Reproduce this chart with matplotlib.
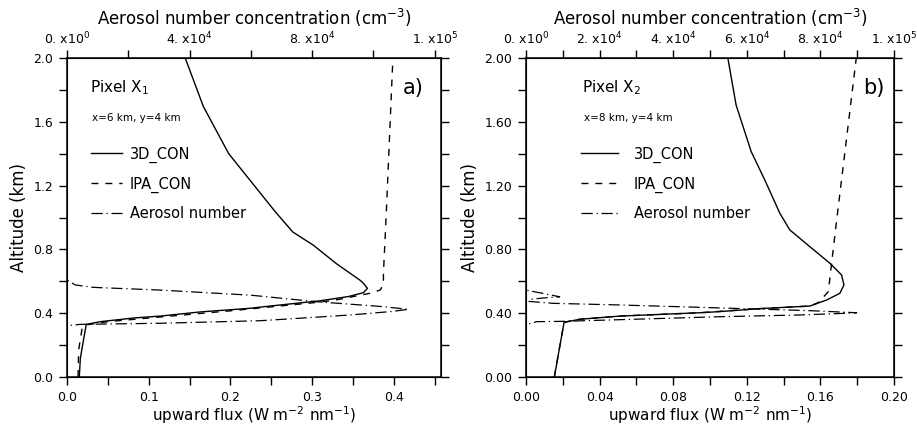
import numpy as np
import matplotlib
matplotlib.use("Agg")
import matplotlib.pyplot as plt
from matplotlib.lines import Line2D

# ==============================
# Data
# ==============================

# Panel a) pixel X1 : upward flux (W m-2 nm-1) vs altitude (km)
a_3d_flux = [0.015, 0.0163, 0.0204, 0.0236, 0.0407, 0.0815, 0.114, 0.163, 0.2243,
             0.245, 0.31, 0.345, 0.363, 0.3678, 0.363, 0.359, 0.330, 0.3017,
             0.2765, 0.255, 0.198, 0.167, 0.1447]
a_3d_alt = [0.0, 0.117, 0.24, 0.33, 0.347, 0.37, 0.382, 0.408, 0.431,
            0.443, 0.478, 0.505, 0.529, 0.556, 0.587, 0.606, 0.71, 0.826,
            0.909, 1.036, 1.40, 1.695, 2.0]

a_ipa_flux = [0.0135, 0.0142, 0.0183, 0.022, 0.05, 0.1, 0.2, 0.30, 0.326,
              0.371, 0.3833, 0.3874, 0.3874, 0.3907, 0.399]
a_ipa_alt = [0.0, 0.169, 0.30, 0.326, 0.347, 0.37, 0.415, 0.465, 0.48,
             0.525, 0.545, 0.577, 0.65, 1.003, 2.0]

# aerosol number concentration (cm-3) vs altitude (km)
a_aer_num = [0, 0, 4340, 30440, 63060, 70670, 92430, 105480, 111450,
             103300, 81570, 60000, 30440, 8680, 2700, 0, 0]
a_aer_alt = [0.0, 0.322, 0.33, 0.337, 0.353, 0.362, 0.389, 0.41, 0.424,
             0.441, 0.472, 0.513, 0.545, 0.562, 0.577, 0.608, 2.0]

# Panel b) pixel X2
b_3d_flux = [0.0154, 0.0207, 0.0292, 0.051, 0.0945, 0.1052, 0.126, 0.1308,
             0.1543, 0.1634, 0.1706, 0.1728, 0.1715, 0.1652, 0.1543, 0.1434,
             0.138, 0.1298, 0.1224, 0.1142, 0.1097]
b_3d_alt = [0.0, 0.343, 0.362, 0.382, 0.403, 0.41, 0.428, 0.431,
            0.445, 0.483, 0.525, 0.577, 0.64, 0.713, 0.817, 0.922,
            1.026, 1.235, 1.413, 1.705, 2.0]

b_ipa_flux = [0.0154, 0.0207, 0.0292, 0.051, 0.0945, 0.126, 0.1543, 0.1588,
              0.1643, 0.1685, 0.1795]
b_ipa_alt = [0.0, 0.343, 0.362, 0.382, 0.403, 0.428, 0.445, 0.466,
             0.535, 0.95, 2.0]

b_aer_num = [0, 0, 1000, 2830, 10060, 52680, 74440, 86300, 89860, 77160,
             47240, 25000, 7340, 800, 1000, 4500, 9165, 4000, 0, 0]
b_aer_alt = [0.0, 0.322, 0.334, 0.347, 0.349, 0.378, 0.389, 0.399, 0.403, 0.416,
             0.437, 0.452, 0.462, 0.474, 0.487, 0.495, 0.503, 0.527, 0.545, 2.0]

legend_labels = ["3D_CON", "IPA_CON", "Aerosol number"]

# ==============================
# Figure
# ==============================
plt.rcParams["font.family"] = "DejaVu Sans"
plt.rcParams["mathtext.fontset"] = "dejavusans"

fig = plt.figure(figsize=(9.17, 4.25), dpi=100)
ax_a = fig.add_axes([0.0731, 0.1129, 0.4079, 0.7506])
ax_b = fig.add_axes([0.5736, 0.1129, 0.4013, 0.7506])

dash_style = (0, (5, 5))
dashdot_style = (0, (9, 3, 1, 3))


def style_axis(ax):
    ax.tick_params(which="both", direction="out", length=6, width=1,
                   labelsize=9, right=True, top=False, pad=4)
    for s in ax.spines.values():
        s.set_linewidth(1.1)


def add_panel(ax, flux3d, alt3d, fluxipa, altipa, aer, aeralt,
              xlim, xmajor, xminor, xfmt, ylabfmt,
              toplim, topmajor, topminor, toplabels,
              pixel, pos_text, legend_x, hl, htp, tag, tag_x):
    ax.plot(flux3d, alt3d, color="black", lw=1.0)
    ax.plot(fluxipa, altipa, color="black", lw=1.0, linestyle=dash_style)
    ax.set_xlim(*xlim)
    ax.set_ylim(0, 2.0)
    ax.set_xticks(xmajor)
    ax.set_xticklabels([xfmt.format(v) for v in xmajor])
    ax.set_xticks(xminor, minor=True)
    yt = np.arange(0, 2.01, 0.4)
    ax.set_yticks(yt)
    ax.set_yticklabels([ylabfmt.format(v) for v in yt])
    ax.set_yticks(np.arange(0, 2.01, 0.2), minor=True)
    style_axis(ax)
    ax.set_xlabel(r"upward flux (W m$^{-2}$ nm$^{-1}$)", fontsize=11, labelpad=0)
    ax.set_ylabel("Altitude (km)", fontsize=12, labelpad=4)

    top = ax.twiny()
    top.plot(aer, aeralt, color="black", lw=0.9, linestyle=dashdot_style)
    top.set_xlim(*toplim)
    top.set_xticks(topmajor)
    top.set_xticklabels(toplabels)
    top.set_xticks(topminor, minor=True)
    top.tick_params(which="both", direction="out", length=6, width=1,
                    labelsize=9, pad=2)
    top.set_xlabel(r"Aerosol number concentration (cm$^{-3}$)", fontsize=12, labelpad=4)
    top.set_ylim(0, 2.0)

    ax.text(pixel[0], 0.906, pixel[1], transform=ax.transAxes, fontsize=11,
            va="center", ha="left")
    ax.text(pixel[0] + 0.005, 0.812, pos_text, transform=ax.transAxes, fontsize=7.5,
            va="center", ha="left")
    ax.text(tag_x, 0.906, tag, transform=ax.transAxes, fontsize=15,
            va="center", ha="center")

    handles = [Line2D([], [], color="black", lw=1.0),
               Line2D([], [], color="black", lw=1.0, linestyle=dash_style),
               Line2D([], [], color="black", lw=0.9, linestyle=dashdot_style)]
    ax.legend(handles, legend_labels, loc="upper left",
              bbox_to_anchor=(legend_x, 0.723), frameon=False, fontsize=10.5,
              handlelength=hl, handletextpad=htp, labelspacing=0.95,
              borderpad=0, borderaxespad=0)


add_panel(ax_a, a_3d_flux, a_3d_alt, a_ipa_flux, a_ipa_alt, a_aer_num, a_aer_alt,
          xlim=(0, 0.458), xmajor=np.arange(0, 0.41, 0.1),
          xminor=np.arange(0, 0.451, 0.05), xfmt="{:.1f}", ylabfmt="{:.1f}",
          toplim=(0, 1.2212e5), topmajor=[0, 4e4, 8e4, 1.2e5],
          topminor=np.arange(0, 1.21e5, 2e4),
          toplabels=[r"0. x10$^0$", r"4. x10$^4$", r"8. x10$^4$", r"1. x10$^5$"],
          pixel=(0.062, r"Pixel X$_1$"), pos_text="x=6 km, y=4 km",
          legend_x=0.065, hl=2.1, htp=0.55, tag="a)", tag_x=0.925)

add_panel(ax_b, b_3d_flux, b_3d_alt, b_ipa_flux, b_ipa_alt, b_aer_num, b_aer_alt,
          xlim=(0, 0.2), xmajor=np.arange(0, 0.201, 0.04),
          xminor=np.arange(0, 0.201, 0.02), xfmt="{:.2f}", ylabfmt="{:.2f}",
          toplim=(0, 1e5), topmajor=np.arange(0, 1.01e5, 2e4),
          topminor=np.arange(0, 1.01e5, 1e4),
          toplabels=[r"0. x10$^0$", r"2. x10$^4$", r"4. x10$^4$", r"6. x10$^4$",
                     r"8. x10$^4$", r"1. x10$^5$"],
          pixel=(0.152, r"Pixel X$_2$"), pos_text="x=8 km, y=4 km",
          legend_x=0.15, hl=2.5, htp=1.1, tag="b)", tag_x=0.945)

fig.savefig("out.png", dpi=100)
